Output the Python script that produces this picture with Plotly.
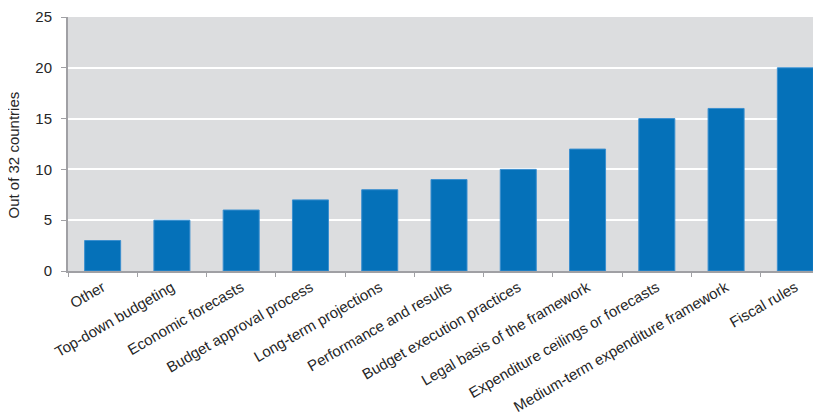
import plotly.graph_objects as go

categories = ["Other", "Top-down budgeting", "Economic forecasts", "Budget approval process",
              "Long-term projections", "Performance and results", "Budget execution practices",
              "Legal basis of the framework", "Expenditure ceilings or forecasts",
              "Medium-term expenditure framework", "Fiscal rules"]
values = [3, 5, 6, 7, 8, 9, 10, 12, 15, 16, 20]
y_ticks = [0, 5, 10, 15, 20, 25]

fig = go.Figure(go.Bar(
    x=categories, y=values, width=0.52,
    marker=dict(color="#0571b9", line=dict(color="#3b8fcf", width=1)),
))

fig.update_layout(
    width=822, height=415,
    margin=dict(l=60, r=0, t=9, b=152),
    paper_bgcolor="white", plot_bgcolor="#dcdddf",
    font=dict(family="Liberation Sans, Arial, sans-serif", color="#262626"),
    showlegend=False, bargap=0.48,
)
fig.update_xaxes(
    range=[-0.5, 10.5], tickangle=-30, tickson="boundaries",
    ticks="outside", ticklen=4, tickcolor="#a0a0a4",
    showline=True, linecolor="#a0a0a4", linewidth=2,
    showgrid=False, tickfont=dict(size=15), automargin=False,
)
fig.update_yaxes(
    range=[0, 25], tickvals=y_ticks, ticks="outside", ticklen=5, tickcolor="#a0a0a4",
    showline=True, linecolor="#a0a0a4", linewidth=2,
    gridcolor="white", gridwidth=1.5, zeroline=False,
    tickfont=dict(size=15), automargin=False, ticklabelstandoff=6,
)
fig.add_annotation(
    text="Out of 32 countries", textangle=-90, showarrow=False,
    xref="paper", yref="paper", x=-55 / 762, y=0.4587,
    xanchor="center", yanchor="middle", font=dict(size=15),
)

fig.write_html("out.html")
